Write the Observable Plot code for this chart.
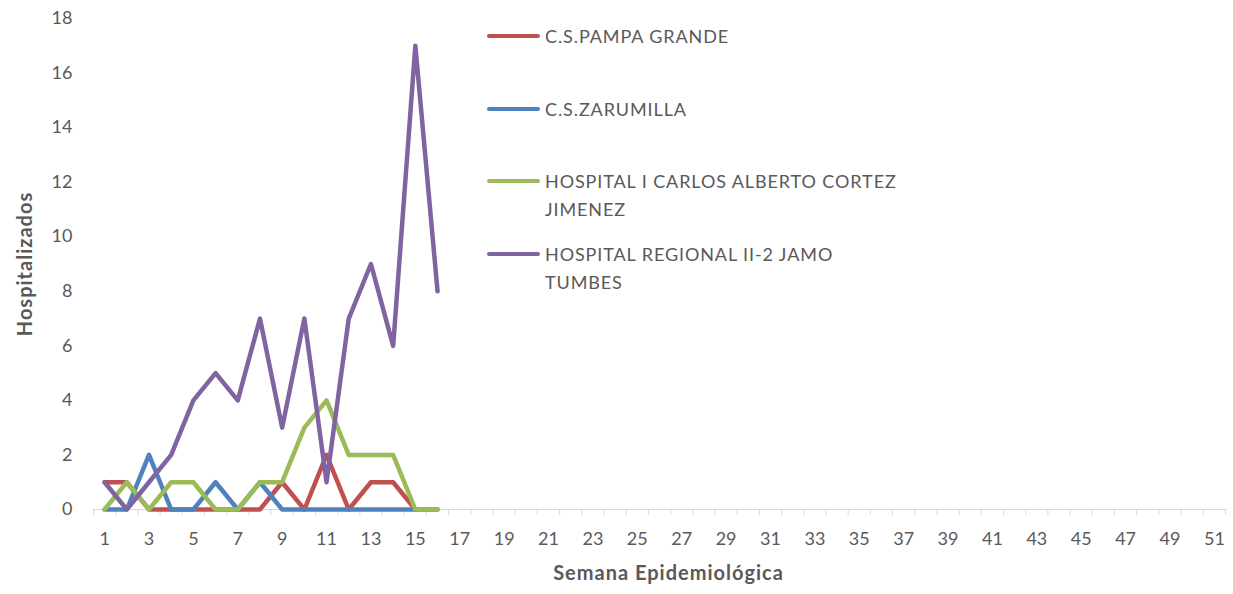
<!DOCTYPE html>
<html><head><meta charset="utf-8">
<script src="https://cdn.jsdelivr.net/npm/d3@7"></script>
<script src="https://cdn.jsdelivr.net/npm/@observablehq/plot@0.6"></script>
<style>
body{margin:0;background:#fff;}
#wrap{position:relative;width:1233px;height:594px;font-family:Lato,"Open Sans",sans-serif;}
#legend{position:absolute;left:487px;top:0;color:#595959;font-size:18px;line-height:28px;letter-spacing:0.9px;}
.item{position:absolute;left:0;display:flex;align-items:flex-start;white-space:nowrap;}
.sw{width:53px;height:4px;border-radius:2px;margin-top:12px;margin-right:5px;flex:none;}
</style></head>
<body><div id="wrap"><div id="legend"></div></div>
<script>
const weeks = [1,2,3,4,5,6,7,8,9,10,11,12,13,14,15,16];
const series = ["C.S.PAMPA GRANDE","C.S.ZARUMILLA","HOSPITAL I CARLOS ALBERTO CORTEZ JIMENEZ","HOSPITAL REGIONAL II-2 JAMO TUMBES"];
const legendLines = [["C.S.PAMPA GRANDE"],["C.S.ZARUMILLA"],["HOSPITAL I CARLOS ALBERTO CORTEZ","JIMENEZ"],["HOSPITAL REGIONAL II-2 JAMO","TUMBES"]];
const colors = ["#C0504D","#4F81BD","#9BBB59","#8064A2"];
const pampaGrande = [1,1,0,0,0,0,0,0,1,0,2,0,1,1,0,0];
const zarumilla   = [0,0,2,0,0,1,0,1,0,0,0,0,0,0,0,null];
const cortez      = [0,1,0,1,1,0,0,1,1,3,4,2,2,2,0,0];
const jamo        = [1,0,1,2,4,5,4,7,3,7,1,7,9,6,17,8];
const xTickLabels = d3.range(1,52,2);
const yTicks = d3.range(0,19,2);

const valuesBySeries = [pampaGrande, zarumilla, cortez, jamo];
const data = [];
valuesBySeries.forEach((vals,i)=>vals.forEach((v,j)=>{ if(v!==null) data.push({week:weeks[j], value:v, series:series[i]}); }));

const chart = Plot.plot({
  width:1233, height:594,
  marginLeft:93, marginRight:8, marginTop:18, marginBottom:85,
  style:{fontFamily:"Lato, 'Open Sans', sans-serif", fontSize:"18px", color:"#595959", background:"transparent"},
  x:{domain:[0.5,51.5]},
  y:{domain:[0,18]},
  color:{domain:series, range:colors},
  marks:[
    Plot.ruleY([0],{stroke:"#d9d9d9", strokeWidth:1.2}),
    Plot.axisX({ticks:d3.range(0.5,52,1), tickFormat:()=>"", tickSize:6, stroke:"#d9d9d9", label:null}),
    Plot.axisX({ticks:xTickLabels, tickSize:0, tickPadding:23, label:null, fill:"#595959", fontSize:18}),
    Plot.axisY({ticks:yTicks, tickSize:0, tickPadding:21, label:null, fill:"#595959", fontSize:18}),
    Plot.line(data,{x:"week", y:"value", z:"series", stroke:"series", strokeWidth:4.5, strokeLinejoin:"round", strokeLinecap:"round"}),
    Plot.text(["Hospitalizados"],{frameAnchor:"left", textAnchor:"middle", dx:-68, rotate:-90, fontWeight:"bold", fontSize:20, fill:"#595959", style:"letter-spacing:0.6px"}),
    Plot.text(["Semana Epidemiológica"],{frameAnchor:"bottom", textAnchor:"middle", dy:70, dx:9, fontWeight:"bold", fontSize:20, fill:"#595959"})
  ]
});
chart.querySelectorAll("text").forEach(t=>{ if(/Hospitalizados|Semana/.test(t.textContent)) t.setAttribute("letter-spacing","1px"); });
document.getElementById("wrap").prepend(chart);
chart.style.position="absolute"; chart.style.left="0"; chart.style.top="0";

const tops = [22,95,167,240];
const legend = document.getElementById("legend");
legendLines.forEach((lines,i)=>{
  const it = document.createElement("div");
  it.className="item"; it.style.top=tops[i]+"px";
  it.innerHTML = `<div class="sw" style="background:${colors[i]}"></div><div>${lines.join("<br>")}</div>`;
  legend.appendChild(it);
});
</script></body></html>
